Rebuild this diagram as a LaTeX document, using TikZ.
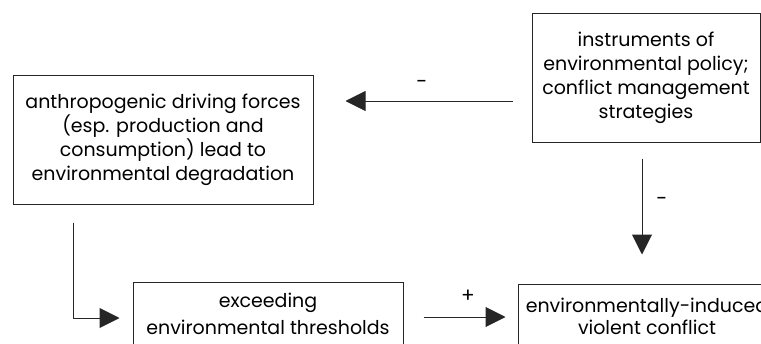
\documentclass[tikz,border=0pt]{standalone}
\usepackage{fontspec}
\setmainfont{Poppins}
\usetikzlibrary{arrows.meta}
\begin{document}
\begin{tikzpicture}[x=1pt,y=-1pt,
  box/.style={draw=black!85,line width=1pt,align=center,inner sep=0pt,
    font=\fontsize{19}{24}\selectfont},
  arr/.style={draw=black!85,line width=1pt,-{Triangle[length=20pt,width=20pt]}},
  sign/.style={font=\fontsize{20}{20}\selectfont,inner sep=0pt}]
\useasboundingbox (0,0) rectangle (761,343);
\clip (0,0) rectangle (761,343);
\node[box,minimum width=300pt,minimum height=129pt] (lb) at (163,139.5)
  {anthropogenic driving forces\\(esp. production and\\consumption) lead to\\environmental degradation};
\node[box,minimum width=228pt,minimum height=129pt] (tr) at (646,77.5)
  {instruments of\\environmental policy;\\conflict management\\strategies};
\node[box,minimum width=270pt,minimum height=64pt,font=\fontsize{19}{27}\selectfont] (ex) at (268,314)
  {exceeding\\environmental thresholds};
\node[box,minimum width=258pt,minimum height=64pt,font=\fontsize{19}{22}\selectfont] (cf) at (647,316)
  {environmentally-induced\\violent conflict};
\draw[arr,shorten <=19pt,shorten >=32pt] (tr.west |- 0,101) -- (lb.east |- 0,101);
\draw[arr,shorten <=16pt,shorten >=29pt] (tr.south -| 642,0) -- (cf.north -| 642,0);
\draw[arr,shorten <=18pt,shorten >=13pt] (lb.south -| 73,0) |- (ex.west |- 0,318);
\draw[arr,shorten <=20pt,shorten >=12pt] (ex.east |- 0,317) -- (cf.west |- 0,317);
\node[sign] (m1) at (422,84) {-};
\node[sign] (m2) at (662,201) {-};
\node[sign] (p1) at (468,296) {+};
\end{tikzpicture}
\end{document}
